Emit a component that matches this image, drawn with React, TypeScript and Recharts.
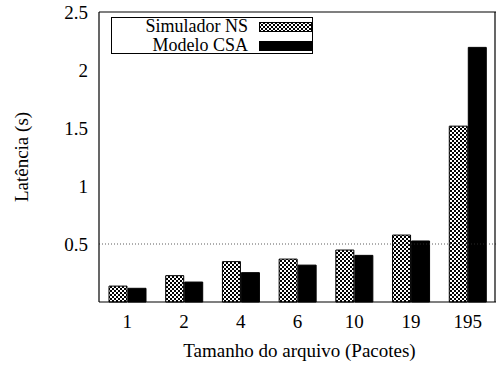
import React from "react";
import {
  BarChart,
  Bar,
  XAxis,
  YAxis,
  ReferenceLine,
  Legend,
} from "recharts";

const categories = ["1", "2", "4", "6", "10", "19", "195"];
const simuladorNS = [0.137, 0.227, 0.348, 0.37, 0.448, 0.577, 1.516];
const modeloCSA = [0.118, 0.172, 0.253, 0.318, 0.402, 0.526, 2.195];
const yTicks = [0.5, 1, 1.5, 2, 2.5];
const refValue = 0.5;
const minorTicks = Array.from({ length: 51 }, (_, i) => Math.round(i * 5) / 100);

const data = categories.map((c, i) => ({
  cat: c,
  ns: simuladorNS[i],
  csa: modeloCSA[i],
}));

const FONT = "'Liberation Serif', 'Times New Roman', 'DejaVu Serif', serif";
const FS = 19;

const YLabel = (props: any) => {
  const vb = props.viewBox;
  const x = vb.x + 21;
  const y = vb.y + vb.height / 2;
  return (
    <text
      x={x}
      y={y}
      transform={`rotate(-90, ${x}, ${y})`}
      textAnchor="middle"
      dominantBaseline="central"
      fontFamily={FONT}
      fontSize={FS}
      fill="#000"
    >
      Latência (s)
    </text>
  );
};

const XLabel = (props: any) => {
  const vb = props.viewBox;
  return (
    <text
      x={vb.x + vb.width / 2 + 2}
      y={vb.y + 55}
      textAnchor="middle"
      fontFamily={FONT}
      fontSize={FS}
      fill="#000"
    >
      Tamanho do arquivo (Pacotes)
    </text>
  );
};

const legendItems = [
  { name: "Simulador NS", fill: "url(#checkerLegend)" },
  { name: "Modelo CSA", fill: "#000" },
];

const LegendBox = () => (
  <div
    style={{
      position: "relative",
      border: "1px solid #000",
      width: 200,
      height: 35,
      background: "#fff",
      fontFamily: FONT,
      fontSize: 18,
      color: "#000",
      boxSizing: "content-box",
    }}
  >
    <svg width={0} height={0} style={{ position: "absolute" }}>
      <defs>
        <pattern id="checkerLegend" width="4" height="4" patternUnits="userSpaceOnUse">
          <rect width="4" height="4" fill="#fff" />
          <rect width="2" height="2" fill="#000" />
          <rect x="2" y="2" width="2" height="2" fill="#000" />
        </pattern>
      </defs>
    </svg>
    {legendItems.map((it, i) => (
      <div
        key={it.name}
        style={{
          position: "absolute",
          left: 0,
          top: i * 19 - 1,
          display: "flex",
          alignItems: "center",
          height: 19,
        }}
      >
        <span style={{ width: 136, textAlign: "right", lineHeight: "19px" }}>
          {it.name}
        </span>
        <svg width={53} height={10} style={{ marginLeft: 11 }}>
          <rect x={0.5} y={0.5} width={52} height={9} fill={it.fill} stroke="#000" />
        </svg>
      </div>
    ))}
  </div>
);

export default function App() {
  return (
    <div style={{ position: "absolute", left: 0, top: 0 }}>
      <BarChart
        width={502}
        height={365}
        data={data}
        margin={{ top: 11, right: 6, left: 0, bottom: 33 }}
        barSize={18}
        barGap={1}
      >
        <defs>
          <pattern id="checker" width="4" height="4" patternUnits="userSpaceOnUse">
            <rect width="4" height="4" fill="#fff" />
            <rect width="2" height="2" fill="#000" />
            <rect x="2" y="2" width="2" height="2" fill="#000" />
          </pattern>
        </defs>
        <XAxis
          dataKey="cat"
          tickLine={false}
          tickSize={0}
          tickMargin={13}
          axisLine={{ stroke: "#000", strokeWidth: 1.2 }}
          tick={{ fill: "#000", fontSize: FS, fontFamily: FONT }}
          height={30}
          label={<XLabel />}
        />
        <XAxis
          xAxisId="top"
          dataKey="cat"
          orientation="top"
          height={1}
          tick={false}
          tickLine={false}
          axisLine={{ stroke: "#000", strokeWidth: 1.2 }}
        />
        <YAxis
          yAxisId="left"
          width={99}
          domain={[0, 2.5]}
          ticks={yTicks}
          interval={0}
          tickLine={false}
          tickSize={0}
          tickMargin={11}
          axisLine={{ stroke: "#000", strokeWidth: 1.2 }}
          tick={{ fill: "#000", fontSize: FS, fontFamily: FONT }}
          label={<YLabel />}
        />
        <YAxis
          yAxisId="minorL"
          orientation="left"
          mirror
          width={1}
          domain={[0, 2.5]}
          ticks={minorTicks}
          interval={0}
          tick={false}
          tickSize={3}
          tickLine={{ stroke: "#000" }}
          axisLine={false}
        />
        <YAxis
          yAxisId="majorL"
          orientation="left"
          mirror
          width={1}
          domain={[0, 2.5]}
          ticks={yTicks}
          interval={0}
          tick={false}
          tickSize={7}
          tickLine={{ stroke: "#000" }}
          axisLine={false}
        />
        <YAxis
          yAxisId="minorR"
          orientation="right"
          mirror
          width={1}
          domain={[0, 2.5]}
          ticks={minorTicks}
          interval={0}
          tick={false}
          tickSize={3}
          tickLine={{ stroke: "#000" }}
          axisLine={{ stroke: "#000", strokeWidth: 1.2 }}
        />
        <YAxis
          yAxisId="majorR"
          orientation="right"
          mirror
          width={1}
          domain={[0, 2.5]}
          ticks={yTicks}
          interval={0}
          tick={false}
          tickSize={7}
          tickLine={{ stroke: "#000" }}
          axisLine={false}
        />
        <ReferenceLine
          yAxisId="left"
          y={refValue}
          stroke="#333"
          strokeDasharray="1 2"
          strokeWidth={0.8}
        />
        <Legend
          layout="horizontal"
          verticalAlign="middle"
          align="center"
          content={<LegendBox />}
          wrapperStyle={{ position: "absolute", left: 111, top: 17, width: "auto" }}
        />
        <Bar
          yAxisId="left"
          dataKey="ns"
          name="Simulador NS"
          fill="url(#checker)"
          stroke="#000"
          strokeWidth={1}
          isAnimationActive={false}
        />
        <Bar
          yAxisId="left"
          dataKey="csa"
          name="Modelo CSA"
          fill="#000"
          stroke="#000"
          isAnimationActive={false}
        />
      </BarChart>
    </div>
  );
}
